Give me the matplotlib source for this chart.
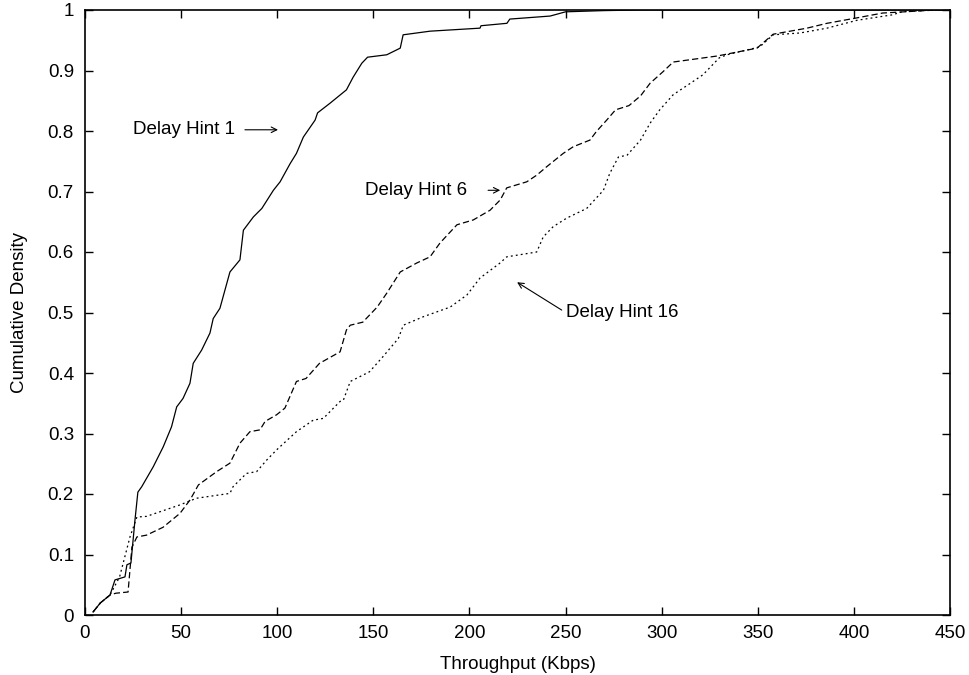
import matplotlib
matplotlib.use("Agg")
import matplotlib.pyplot as plt
from matplotlib.ticker import FuncFormatter

plt.rcParams['font.family'] = ['Liberation Sans', 'DejaVu Sans']

# Delay Hint 1 (solid)
hint1_x = [4.2, 8, 13, 15.6, 20.8, 21.8, 23.9, 26, 27.5, 29.5, 35.5, 40.7, 45, 47.7, 51, 54.6,
           56.3, 60.7, 65, 66.7, 70.2, 75.4, 80.6, 82.4, 87.6, 92, 98, 101.5, 106.7, 110, 113.6,
           119.7, 121, 127.5, 136, 139.5, 144, 147, 157, 164, 165.5, 179.5, 205.5, 206,
           219.5, 221, 242, 250, 270, 290, 450]
hint1_y = [0.005, 0.02, 0.033, 0.058, 0.063, 0.083, 0.086, 0.157, 0.203, 0.212, 0.245, 0.278,
           0.311, 0.344, 0.358, 0.383, 0.416, 0.438, 0.466, 0.49, 0.507, 0.567, 0.587, 0.636,
           0.658, 0.672, 0.702, 0.716, 0.746, 0.763, 0.79, 0.818, 0.83, 0.846, 0.868, 0.889,
           0.912, 0.922, 0.926, 0.937, 0.959, 0.965, 0.970, 0.974, 0.978, 0.985, 0.99,
           0.997, 0.999, 1.0, 1.0]

# Delay Hint 6 (dashed)
hint6_x = [4.2, 8, 13, 16, 22.4, 24.4, 27, 32, 40.6, 49.4, 54.6, 59, 68.5, 75.4, 80.6, 85.8, 91,
           93.7, 99.7, 104, 110, 115, 122, 132.7, 136, 138, 144.5, 152, 157, 164, 172.7, 179.5,
           184.7, 193.5, 202, 210.7, 216, 219.4, 229.8, 235, 240.2, 248.8, 254, 262.7, 266,
           271.4, 276, 283, 289, 294, 300.7, 306, 329, 349.6, 358, 375.6, 386, 401.6, 415,
           443, 450]
hint6_y = [0.005, 0.02, 0.033, 0.036, 0.038, 0.112, 0.129, 0.132, 0.145, 0.168, 0.19, 0.215,
           0.237, 0.251, 0.284, 0.303, 0.306, 0.32, 0.331, 0.342, 0.386, 0.391, 0.416, 0.435,
           0.471, 0.479, 0.484, 0.509, 0.532, 0.567, 0.582, 0.592, 0.615, 0.645, 0.653, 0.669,
           0.686, 0.706, 0.716, 0.727, 0.741, 0.763, 0.774, 0.785, 0.799, 0.818, 0.835, 0.842,
           0.858, 0.879, 0.898, 0.914, 0.924, 0.937, 0.96, 0.97, 0.978, 0.987, 0.995, 1.0, 1.0]

# Delay Hint 16 (dotted)
hint16_x = [4.2, 8, 13, 18, 23.4, 27, 32, 49.4, 58, 75.4, 77, 84, 89.3, 94.5, 99.7, 110, 118.7,
            124, 132.7, 134.4, 138, 148, 155, 163, 165.6, 176, 190, 198.7, 205.5, 216, 219.4,
            235, 238.4, 243.6, 250.6, 261, 269.7, 273, 277.5, 282, 289, 294, 299, 306, 315,
            321.5, 330, 334, 351, 358, 372, 386, 401.6, 420, 425, 441, 450]
hint16_y = [0.005, 0.02, 0.033, 0.063, 0.129, 0.162, 0.163, 0.182, 0.193, 0.201, 0.212, 0.234,
            0.237, 0.256, 0.273, 0.303, 0.322, 0.325, 0.353, 0.355, 0.386, 0.402, 0.427, 0.457,
            0.479, 0.493, 0.509, 0.529, 0.557, 0.582, 0.592, 0.6, 0.625, 0.642, 0.656, 0.672,
            0.702, 0.73, 0.757, 0.76, 0.785, 0.813, 0.835, 0.86, 0.879, 0.893, 0.921, 0.926,
            0.939, 0.959, 0.962, 0.97, 0.983, 0.992, 0.997, 1.0, 1.0]

x_ticks = list(range(0, 451, 50))
y_ticks = [i / 10 for i in range(11)]

fig = plt.figure(figsize=(9.7, 6.75), dpi=100)
ax = fig.add_axes([85 / 970, 60 / 675, 865 / 970, 605 / 675])

ax.plot(hint1_x, hint1_y, color='black', lw=0.9, linestyle='-')
ax.plot(hint6_x, hint6_y, color='black', lw=0.9, linestyle=(0, (5, 2.5)))
ax.plot(hint16_x, hint16_y, color='black', lw=0.9, linestyle=(0, (1.5, 2.5)))

ax.set_xlim(0, 450)
ax.set_ylim(0, 1)
ax.set_xticks(x_ticks)
ax.set_yticks(y_ticks)
ax.yaxis.set_major_formatter(FuncFormatter(lambda v, p: f'{v:g}'))
ax.tick_params(direction='in', length=6, width=1, top=True, right=True,
               labelsize=13.5)
ax.tick_params(axis='y', pad=8)
ax.tick_params(axis='x', pad=7)
for sp in ax.spines.values():
    sp.set_linewidth(1.2)

ax.set_xlabel('Throughput (Kbps)', fontsize=13.5, labelpad=10)
ax.set_ylabel('Cumulative Density', fontsize=13.5, labelpad=14)

arrow_kw = dict(arrowstyle='->', color='black', lw=0.8, shrinkA=0, shrinkB=0)
ax.text(25, 0.802, 'Delay Hint 1', fontsize=13.5, va='center', ha='left')
ax.annotate('', xy=(100.4, 0.802), xytext=(83.2, 0.802), arrowprops=arrow_kw)
ax.text(145.7, 0.702, 'Delay Hint 6', fontsize=13.5, va='center', ha='left')
ax.annotate('', xy=(216, 0.702), xytext=(209.7, 0.702), arrowprops=arrow_kw)
ax.text(250.3, 0.5, 'Delay Hint 16', fontsize=13.5, va='center', ha='left')
ax.annotate('', xy=(224.8, 0.55), xytext=(248, 0.504), arrowprops=arrow_kw)

fig.savefig('out.png', dpi=100)
